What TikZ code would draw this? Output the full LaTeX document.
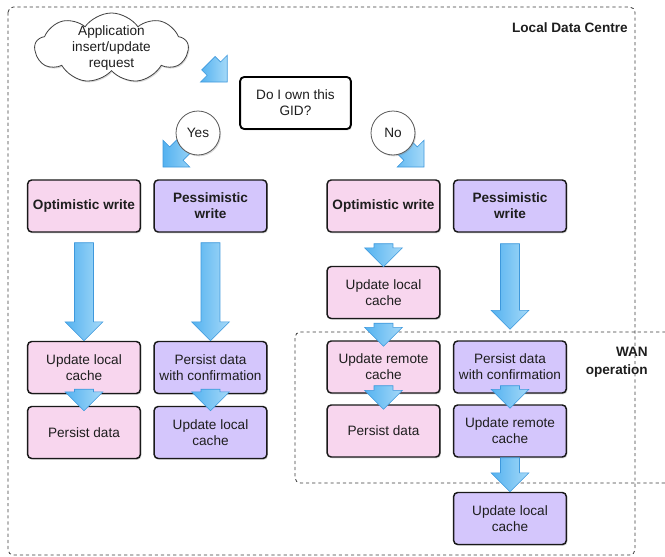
\documentclass[tikz,border=0pt]{standalone}
\usepackage{fontspec}
\setmainfont{Liberation Sans}
\usetikzlibrary{calc,shapes.symbols,shadows}
\definecolor{pinkf}{RGB}{248,214,238}
\definecolor{lavf}{RGB}{212,198,252}
\definecolor{blueA}{RGB}{84,178,240}
\definecolor{blueB}{RGB}{165,217,248}
\definecolor{blueL}{RGB}{62,152,220}
\definecolor{txt}{RGB}{30,30,30}
\definecolor{framec}{RGB}{60,60,60}
\tikzset{
 base/.style={font=\fontsize{10.2pt}{12pt}\selectfont, text=txt, align=center},
 bold/.style={font=\fontsize{10.2pt}{12pt}\selectfont\bfseries},
 shad/.style={drop shadow={opacity=0.3, shadow xshift=0.8pt, shadow yshift=-1pt}},
 box/.style={base, draw=black!90, line width=1.1pt, rounded corners=3pt, minimum width=84.5pt, minimum height=39pt, inner sep=0pt, shad},
 opt/.style={box, fill=pinkf},
 pes/.style={box, fill=lavf},
 barrow/.style={draw=blueL, line width=0.5pt, left color=blueA, right color=blueB},
 frameline/.style={draw=framec, line width=0.6pt, dash pattern=on 2.4pt off 2.2pt},
 answer/.style={base, circle, draw=black!65, line width=0.6pt, fill=white, minimum size=33pt, inner sep=0pt, shad},
}
\newcommand\varrow[2]{\path[barrow] let \p1=#1, \p2=#2 in (\x1-7.1pt,\y1) -- (\x1+7.1pt,\y1) -- (\x1+7.1pt,\y2+14.2pt) -- (\x1+14.2pt,\y2+14.2pt) -- (\x1,\y2) -- (\x1-14.2pt,\y2+14.2pt) -- (\x1-7.1pt,\y2+14.2pt) -- cycle;}
\newcommand\darrow[3]{\begin{scope}[shift={#1}, rotate=#2]\path[barrow] (-#3,-7.1pt) -- (-14.2pt,-7.1pt) -- (-14.2pt,-14.2pt) -- (0pt,0pt) -- (-14.2pt,14.2pt) -- (-14.2pt,7.1pt) -- (-#3,7.1pt) -- cycle;\end{scope}}
\begin{document}
\begin{tikzpicture}[x=0.75pt,y=-0.75pt]
\useasboundingbox (0,0) rectangle (665,557);
% frames
\draw[frameline, rounded corners=4pt] (8,7) rectangle (635,555);
\draw[frameline, rounded corners=4pt] (690,332) -- (295,332) -- (295,483) -- (690,483);
\node[base, bold, anchor=east, inner sep=0pt] (ldc) at (628,28) {Local Data Centre};
\node[base, align=right, anchor=east, inner sep=0pt, font=\fontsize{10.2pt}{13.5pt}\selectfont\bfseries] (wan) at (648,362) {WAN\\operation};
% start
\node[base, cloud, cloud puffs=9, cloud puff arc=110, cloud ignores aspect, draw=black!75, line width=0.6pt, fill=white, minimum width=115pt, minimum height=52.5pt, inner xsep=-7pt, inner ysep=-13pt, shad] (app) at (111.5,48) {Application\\insert/update\\request};
\node[base, draw=black, line width=1.4pt, rounded corners=3pt, fill=white, minimum width=83pt, minimum height=39pt, inner sep=0pt, shad] (q) at (295.5,103) {Do I own this\\GID?};
\coordinate (yesc) at (198,133);
\coordinate (noc) at (393,133);
% boxes
\node[opt, bold] (o1) at (84,206) {Optimistic write};
\node[pes, bold] (p1) at (210.5,206) {Pessimistic\\write};
\node[opt, bold] (o2) at (383.5,206) {Optimistic write};
\node[pes, bold] (p2) at (510,206) {Pessimistic\\write};
\node[opt] (o1a) at (84,367.5) {Update local\\cache};
\node[opt] (o1b) at (84,432.5) {Persist data};
\node[pes] (p1a) at (210.5,367.5) {Persist data\\with confirmation};
\node[pes] (p1b) at (210.5,432.5) {Update local\\cache};
\node[opt] (o2a) at (383.5,292.5) {Update local\\cache};
\node[opt] (o2b) at (383.5,367) {Update remote\\cache};
\node[opt] (o2c) at (383.5,431) {Persist data};
\node[pes] (p2a) at (510,367) {Persist data\\with confirmation};
\node[pes] (p2b) at (510,431) {Update remote\\cache};
\node[pes] (p2c) at (510,518.5) {Update local\\cache};
% arrows
\darrow{($(q.north west)+(-12,6)$)}{-45}{20pt}
\darrow{($(yesc)+(-35,34)$)}{-135}{30pt}
\darrow{($(noc)+(31,34)$)}{-45}{30pt}
\varrow{($(o1.south)+(0,10)$)}{(o1a.north)}
\varrow{($(p1.south)+(0,10)$)}{(p1a.north)}
\varrow{($(o2.south)+(0,11)$)}{($(o2a.north)+(0,1)$)}
\varrow{($(p2.south)+(0,11)$)}{($(p2a.north)+(0,-11)$)}
\varrow{($(o2a.south)+(0,4)$)}{($(o2b.north)+(0,6)$)}
\varrow{($(o1a.south)+(0,-5)$)}{($(o1b.north)+(0,5)$)}
\varrow{($(p1a.south)+(0,-5)$)}{($(p1b.north)+(0,5)$)}
\varrow{($(o2b.south)+(0,-8)$)}{($(o2c.north)+(0,5)$)}
\varrow{($(p2a.south)+(0,-8)$)}{($(p2b.north)+(0,4)$)}
\varrow{(p2b.south)}{(p2c.north)}
% answers
\node[answer] (yes) at (yesc) {Yes};
\node[answer] (no) at (noc) {No};
\end{tikzpicture}
\end{document}
